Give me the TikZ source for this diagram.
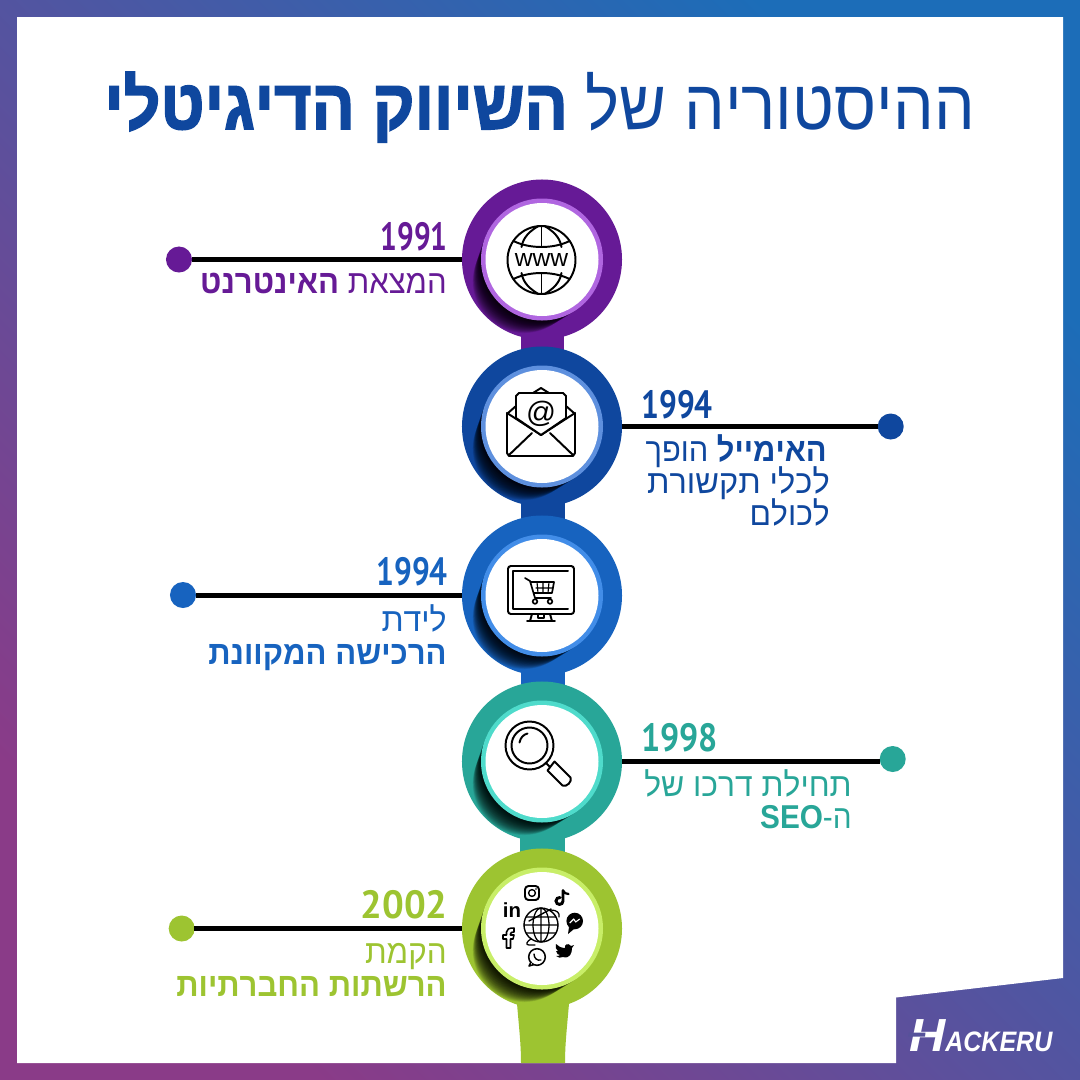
\documentclass[tikz,border=0pt]{standalone}
\usepackage{fontspec}
\setmainfont{Liberation Sans}
\TeXXeTstate=1
\newfontfamily\yearfont{PT Sans}
\newfontfamily\heavyfont{Liberation Sans}[BoldFeatures={FakeBold=2.4}]
\definecolor{cA}{HTML}{661A96}\definecolor{lA}{HTML}{B066E0}
\definecolor{cB}{HTML}{0F479E}\definecolor{lB}{HTML}{5E90DE}
\definecolor{cC}{HTML}{1763BF}\definecolor{lC}{HTML}{428DE8}
\definecolor{cD}{HTML}{28A698}\definecolor{lD}{HTML}{4FDBCB}
\definecolor{cE}{HTML}{9DC431}\definecolor{lE}{HTML}{C8EE68}
\definecolor{bgP}{HTML}{8A3B88}\definecolor{bgB}{HTML}{1C6DB8}
\definecolor{logoBg}{HTML}{56529A}
\newcommand{\rtl}[1]{\beginR #1\endR}
\newcommand{\sx}[2]{\scalebox{#1}[1]{#2}}
\tikzset{
 x=0.025cm,y=-0.025cm,
 yeartext/.style={font=\yearfont\bfseries\fontsize{28}{28}\selectfont,inner sep=0},
 bodytext/.style={font=\fontsize{23.5}{23.5}\selectfont,inner sep=0,anchor=base east},
 dotnode/.style={circle,minimum size=18.5pt,inner sep=0},
 hubnode/.style={circle,minimum size=113.8pt,inner sep=0},
 leader/.style={line width=3.4pt,black,shorten <=9.1pt},
 icon/.style={draw=black,line width=1.4pt,line join=round,line cap=round},
}
\newcommand{\hub}[4]{% name, y, dark, light
 \node[hubnode,fill=#3] (#1) at (542,#2) {};
 \begin{scope}
  \clip (542,#2) circle (80);
  \foreach \i in {1,...,36}{
   \fill[black,opacity=.05] ({542-.5*\i},{#2+.62*\i}) circle ({61-.27*\i});
  }
 \end{scope}
 \fill[#4] (542,#2) circle (61);
 \fill[white] (542,#2) circle (56.5);
}
\begin{document}
\begin{tikzpicture}
\useasboundingbox (0,0) rectangle (1080,1080);
\shade[left color=bgP,right color=bgB,shading angle=135] (0,0) rectangle (1080,1080);
\fill[white] (17,17) -- (1063,17) -- (1063,978) -- (896,997.5) -- (896,1063) -- (17,1063) -- cycle;
% title
\node[inner sep=0,anchor=base east,font=\fontsize{50}{50}\selectfont,text=cB] (title) at (975,129)
 {\sx{.913}{\rtl{ההיסטוריה של {\heavyfont\bfseries השיווק הדיגיטלי}}}};
% spine
\fill[cA] (520.5,300) rectangle (563.5,380);
\fill[cB] (520.5,470) rectangle (564.5,550);
\fill[cC] (520.5,640) rectangle (564.5,720);
\fill[cD] (520,800) rectangle (565,880);
\fill[cE] (516,990) .. controls (518,1020) and (521,1040) .. (521,1063) -- (565,1063) .. controls (565,1040) and (568,1020) .. (570,990) -- cycle;
% hubs
\hub{hubA}{259.5}{cA}{lA}
\hub{hubB}{426.5}{cB}{lB}
\hub{hubC}{595.5}{cC}{lC}
\hub{hubD}{761.5}{cD}{lD}
\hub{hubE}{928.5}{cE}{lE}
% dots and leaders
\node[dotnode,fill=cA] (dotA) at (179,259.5) {};
\node[dotnode,fill=cB] (dotB) at (890.7,426.5) {};
\node[dotnode,fill=cC] (dotC) at (183,595) {};
\node[dotnode,fill=cD] (dotD) at (892.7,759) {};
\node[dotnode,fill=cE] (dotE) at (181.7,928.5) {};
\draw[leader] (dotA |- hubA) -- (hubA);
\draw[leader] (dotB |- hubB) -- (hubB);
\draw[leader] (dotC |- hubC) -- (hubC);
\draw[leader] (dotD |- hubD) -- (hubD);
\draw[leader] (dotE |- hubE) -- (hubE);
% years
\node[yeartext,text=cA,anchor=base east] (yA) at (448,250) {\sx{.75}{1991}};
\node[yeartext,text=cB,anchor=base west] (yB) at (641,418) {\sx{.8}{1994}};
\node[yeartext,text=cC,anchor=base east] (yC) at (448,585) {\sx{.8}{1994}};
\node[yeartext,text=cD,anchor=base west] (yD) at (641,751.7) {\sx{.86}{1998}};
\node[yeartext,text=cE,anchor=base east] (yE) at (448,918) {\sx{.975}{2002}};
% body
\node[bodytext,text=cA] (tA) at (447,293) {\sx{.94}{\rtl{המצאת \textbf{האינטרנט}}}};
\node[bodytext,text=cB] (tBa) at (827,461.7) {\sx{.933}{\rtl{\textbf{האימייל} הופך}}};
\node[bodytext,text=cB] (tBb) at (830,493) {\sx{.984}{\rtl{לכלי תקשורת}}};
\node[bodytext,text=cB] (tBc) at (830,525) {\sx{.96}{\rtl{לכולם}}};
\node[bodytext,text=cC] (tCa) at (447,631) {\sx{.97}{\rtl{לידת}}};
\node[bodytext,text=cC] (tCb) at (447,664) {\sx{.94}{\rtl{\textbf{הרכישה המקוונת}}}};
\node[bodytext,text=cD] (tDa) at (852,796.7) {\sx{.963}{\rtl{תחילת דרכו של}}};
\node[bodytext,text=cD] (tDb) at (852,828) {\sx{.9}{\rtl{ה-\textbf{\beginL SEO\endL}}}};
\node[bodytext,text=cE] (tEa) at (447,963) {\sx{.95}{\rtl{הקמת}}};
\node[bodytext,text=cE] (tEb) at (447,996.7) {\sx{.94}{\rtl{\textbf{הרשתות החברתיות}}}};
% www icon
\begin{scope}[shift={(541.5,260)}]
 \draw[icon] (0,0) circle (34);
 \draw[icon] (0,-34) -- (0,-13) (0,13) -- (0,34);
 \draw[icon] (-3,-34) .. controls (-17,-26) and (-19,-18) .. (-20,-13);
 \draw[icon] (3,-34) .. controls (17,-26) and (19,-18) .. (20,-13);
 \draw[icon] (-3,34) .. controls (-17,26) and (-19,18) .. (-20,13);
 \draw[icon] (3,34) .. controls (17,26) and (19,18) .. (20,13);
 \draw[icon] (-28,-19) .. controls (-12,-11) and (12,-11) .. (28,-19);
 \draw[icon] (-28,19) .. controls (-12,11) and (12,11) .. (28,19);
 \node[inner sep=0,font=\fontsize{17.5}{17.5}\selectfont] (www) at (0,0) {www};
\end{scope}
% envelope icon
\begin{scope}[shift={(541,426)}]
 \draw[icon,fill=white] (-34,-13) -- (-34,27) -- (-32,30) -- (32,30) -- (34,27) -- (34,-13) -- (0,9) -- cycle;
 \draw[icon] (-32,29) -- (-9,7) (32,29) -- (9,7);
 \draw[icon,fill=white] (-25,-8) -- (-25,-30) -- (-22,-33) -- (22,-33) -- (25,-30) -- (25,-8) -- (0,9) -- cycle;
 \draw[icon] (-8,-33) -- (0,-38) -- (8,-33);
 \draw[icon] (-33,-13) -- (-25,-20) (33,-13) -- (25,-20);
 \node[inner sep=0,font=\fontsize{21}{21}\selectfont] (at) at (0,-12) {@};
\end{scope}
% monitor icon
\begin{scope}[shift={(541,595)}]
 \draw[icon,rounded corners=2] (-33,-29) rectangle (33,19);
 \draw[icon] (27,-24) -- (-28,-24) -- (-28,14) -- (27,14);
 \draw[icon] (-9,19) -- (-11,26) (9,19) -- (11,26) (-14,26) -- (14,26);
 \draw[icon,line width=1pt] (-3,19) -- (-3,23) -- (3,23) -- (3,19);
 \draw[icon,line width=1.2pt] (-16,-17) -- (-11,-14) -- (-6,3) -- (10,3);
 \draw[icon,line width=1.2pt] (-10,-13) -- (13,-13) -- (11,-2) -- (-7,-2);
 \draw[icon,line width=.8pt] (-5,-7) -- (12,-7) (-4,-13) -- (-3,-2) (2,-13) -- (2,-2) (8,-13) -- (7,-2);
 \draw[icon,line width=1.2pt] (-6,6.5) circle (2.3) (9,6.5) circle (2.3);
\end{scope}
% magnifier icon
\begin{scope}[shift={(529.5,745.5)}]
 \draw[icon] (0,0) circle (24);
 \draw[icon] (0,0) circle (18);
 \draw[icon] (-10,-3) .. controls (-9,-8) and (-6,-11) .. (-2,-12);
 \draw[icon] (16,17) -- (20,21);
 \draw[icon] (18,25) -- (25,16) -- (41,32) .. controls (43,36) and (37,42) .. (33,40) -- cycle;
\end{scope}
% social icon
\begin{scope}[shift={(541,925)}]
 \draw[icon,line width=1pt] (0,0) circle (17);
 \draw[icon,line width=.9pt] (0,0) ellipse (8 and 17) (-17,0) -- (17,0) (0,-17) -- (0,17) (-15,-8) -- (15,-8) (-15,8) -- (15,8);
 \draw[icon,line width=1pt] (-12,-4) -- (10,-16);
 \draw[icon,line width=.9pt] (10,-15) .. controls (16,-15) and (19,-12) .. (18,-8) (-10,14) .. controls (-14,16) and (-16,20) .. (-12,20) -- (-6,20);
 % instagram
 \draw[icon,rounded corners=2.5] (-16,-39) rectangle (-2,-25);
 \draw[icon,line width=1pt] (-9,-32) circle (3.4);
 \fill (-5,-36) circle (.9);
 % linkedin
 \node[inner sep=0,font=\bfseries\fontsize{14.5}{14.5}\selectfont] (li) at (-29,-15) {in};
 % facebook
 \draw[icon,line width=1.1pt] (-38,10) -- (-34.5,10) -- (-34.5,7) .. controls (-34.5,4) and (-32,3) .. (-27,3) -- (-27,7) .. controls (-29.5,7) and (-30.5,7.5) .. (-30.5,9) -- (-30.5,10) -- (-27,10) -- (-28,14) -- (-30.5,14) -- (-30.5,23) -- (-34.5,23) -- (-34.5,14) -- (-38,14) -- cycle;
 % tiktok
 \draw[black,line width=2.1pt,line cap=round] (22,-34.5) -- (22,-24) .. controls (22,-19.5) and (15,-19.5) .. (15,-24) .. controls (15,-26.5) and (17,-27.5) .. (19,-27.5);
 \draw[black,line width=1.6pt,line cap=round] (22,-34.5) .. controls (23,-32) and (25,-31) .. (27.5,-31);
 % messenger
 \fill (33.7,-4) circle (8.3);
 \fill (28,2) -- (27,9) -- (33,4) -- cycle;
 \draw[white,line width=.8pt,line join=round] (28.7,-2) -- (32.7,-6) -- (34.7,-3) -- (38.7,-6);
 % twitter
 \begin{scope}[yshift=-0.1cm]
 \fill (22,28) .. controls (29,30) and (31,24) .. (31,19) -- (33,16) -- (30,17) .. controls (27,13) and (23,16) .. (24,19) .. controls (20,19) and (17,17) .. (15,15) .. controls (14,18) and (15,21) .. (17,22) .. controls (16,22) and (16,22) .. (15,22) .. controls (16,25) and (17,26) .. (19,26) .. controls (18,27) and (17,27) .. (15,27) .. controls (17,29) and (20,29) .. (22,28) -- cycle;
 \end{scope}
 % whatsapp
 \draw[icon,line width=1.1pt] (-4,32) circle (8.3);
 \fill[white] (-13,38) rectangle (-9,41);
 \draw[icon,line width=1.1pt] (-10,37) -- (-12,41) -- (-7,39.5);
 \draw[icon,line width=1pt] (-7,29) .. controls (-7,33) and (-4,36) .. (0,35);
\end{scope}
% logo
\node[inner sep=0,text=white,anchor=base west,font=\bfseries\itshape\fontsize{33}{33}\selectfont] (logoH) at (909,1051) {\sx{1.08}{H}};
\fill[logoBg] (909,1032.5) -- (925.5,1032.5) -- (925,1036.5) -- (908,1036.5) -- cycle;
\node[inner sep=0,text=white,anchor=base west,font=\bfseries\itshape\fontsize{20}{20}\selectfont] (logoR) at (945,1051) {\sx{.89}{ACKERU}};
\end{tikzpicture}
\end{document}
